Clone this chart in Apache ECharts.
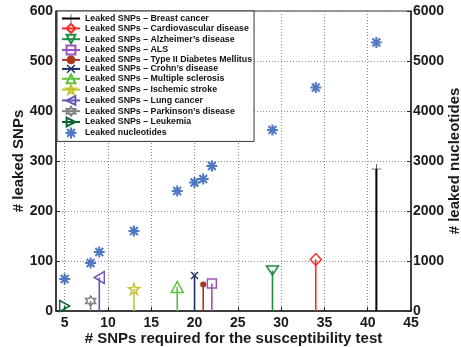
<!DOCTYPE html>
<html>
<head>
<meta charset="utf-8">
<script src="https://cdn.jsdelivr.net/npm/echarts@6/dist/echarts.min.js"></script>
<style>
html,body{margin:0;padding:0;background:#fff;}
#chart{width:461px;height:347px;}
</style>
</head>
<body>
<div id="chart"></div>
<script>
// ---- data ----
const diseases = ['Breast cancer','Cardiovascular disease',"Alzheimer’s disease",'ALS','Type II Diabetes Mellitus',"Crohn’s disease",'Multiple sclerosis','Ischemic stroke','Lung cancer',"Parkinson’s disease",'Leukemia'];
const snpsRequired = [41, 34, 29, 22, 21, 20, 18, 13, 9, 8, 5];
const leakedSNPs = [284, 103, 81, 55, 53, 71, 48, 44, 67, 20, 10];
const nucleotideX = [41, 34, 29, 22, 21, 20, 18, 13, 9, 8, 5];
const leakedNucleotides = [5370, 4470, 3620, 2900, 2640, 2570, 2400, 1600, 1180, 960, 640];
const xTicks = [5, 10, 15, 20, 25, 30, 35, 40, 45];

// ---- marker paths ----
function polyPath(pts){ return 'M' + pts.map(p => p[0].toFixed(2)+','+p[1].toFixed(2)).join(' L') + ' Z'; }
function spokes(angles, halfLen, halfW){
  return 'path://' + angles.map(a => {
    const r = a*Math.PI/180, c = Math.cos(r), s = Math.sin(r);
    const pts = [[-halfLen,-halfW],[halfLen,-halfW],[halfLen,halfW],[-halfLen,halfW]]
      .map(p => [10 + p[0]*c - p[1]*s, 10 + p[0]*s + p[1]*c]);
    return polyPath(pts);
  }).join(' ');
}
function starPath(n, rOut, rIn){
  const pts = [];
  for (let i = 0; i < 2*n; i++){
    const r = i % 2 === 0 ? rOut : rIn;
    const a = -Math.PI/2 + i*Math.PI/n;
    pts.push([10 + r*Math.cos(a), 10 + r*Math.sin(a)]);
  }
  return 'path://' + polyPath(pts);
}
const SYM = {
  plus: 'path://M0,9.4 L20,9.4 L20,10.6 L0,10.6 Z M9.4,0 L10.6,0 L10.6,20 L9.4,20 Z',
  diamond: 'path://M10,0 L20,10 L10,20 L0,10 Z',
  triDown: 'path://M0,0 L20,0 L10,20 Z',
  square: 'path://M0,0 L20,0 L20,20 L0,20 Z',
  circle: 'circle',
  cross: spokes([45,135], 10, 1.4),
  triUp: 'path://M10,0 L20,20 L0,20 Z',
  pent: starPath(5, 10, 4),
  triLeft: 'path://M20,0 L20,20 L0,10 Z',
  hex: starPath(6, 10, 5.8),
  triRight: 'path://M0,0 L0,20 L20,10 Z',
  aster: spokes([0,45,90,135], 10, 1.9)
};

const colors = ['#000000','#ff2a2a','#1f8c40','#a050b8','#a83a1c','#1e2d6e','#5cc03c','#c4c432','#6a55b8','#808080','#0e6434'];
const symbols = [SYM.plus, SYM.diamond, SYM.triDown, SYM.square, SYM.circle, SYM.cross, SYM.triUp, SYM.pent, SYM.triLeft, SYM.hex, SYM.triRight];
const sizes = [[10,10],[11,12],[12,9],[9,9],[6,6],[8,8],[12,11],[11,11],[10,12],[10,10],[10,11]];
const filled = [true,false,false,false,true,true,false,false,false,false,false];

const series = diseases.map((d, i) => ({
  name: 'Leaked SNPs – ' + d,
  type: 'line',
  xAxisIndex: 0,
  yAxisIndex: 0,
  symbol: symbols[i],
  symbolSize: sizes[i],
  showSymbol: true,
  lineStyle: { color: colors[i], width: i === 0 ? 2 : 1.6 },
  itemStyle: filled[i]
    ? { color: colors[i], borderWidth: 0 }
    : { color: 'rgba(255,255,255,0)', borderColor: colors[i], borderWidth: 1.5 },
  emphasis: { disabled: true },
  animation: false,
  z: 3,
  data: [
    { value: [snpsRequired[i], 0], symbol: 'none' },
    { value: [snpsRequired[i], leakedSNPs[i]] }
  ]
}));
series.push({
  name: 'Leaked nucleotides',
  type: 'scatter',
  xAxisIndex: 0,
  yAxisIndex: 1,
  symbol: SYM.aster,
  symbolSize: 11,
  symbolKeepAspect: true,
  itemStyle: { color: '#2458b4' },
  emphasis: { disabled: true },
  animation: false,
  z: 3,
  data: nucleotideX.map((x, i) => [x, leakedNucleotides[i]])
});

const gridLine = { show: true, lineStyle: { color: '#8c8c8c', type: [1, 2], width: 1 } };
const axisFont = { fontFamily: 'Liberation Sans, Arial, sans-serif', fontWeight: 'bold', fontSize: 14, color: '#1a1a1a' };
const titleFont = { ...axisFont, fontSize: 15 };
const plain = v => String(v);

const option = {
  backgroundColor: '#fff',
  animation: false,
  grid: { left: 56, right: 50, top: 11, bottom: 36, show: true, borderColor: '#333', borderWidth: 1, backgroundColor: 'transparent', containLabel: false, outerBoundsMode: 'none' },
  legend: {
    orient: 'vertical',
    left: 57, top: 11,
    padding: [3, 2, 3, 4],
    itemWidth: 18, itemHeight: 11, itemGap: 0,
    backgroundColor: '#fff',
    borderColor: '#333', borderWidth: 1,
    borderRadius: 0,
    textStyle: { fontFamily: 'Liberation Sans, Arial, sans-serif', fontWeight: 'bold', fontSize: 8.8, color: '#111' },
    data: series.map(s => s.name),
    selectedMode: false,
    z: 10
  },
  xAxis: [{
    type: 'value', min: 4, max: 45,
    name: '# SNPs required for the susceptibility test',
    nameLocation: 'middle', nameGap: 20, nameMoveOverlap: false,
    nameTextStyle: titleFont,
    axisLine: { show: true, onZero: false, lineStyle: { color: '#222', width: 1.5 } },
    axisTick: { show: true, inside: true, length: 4, customValues: xTicks, lineStyle: { color: '#222' } },
    axisLabel: { customValues: xTicks, margin: 5, formatter: plain, ...axisFont },
    splitLine: gridLine
  }],
  yAxis: [{
    type: 'value', min: 0, max: 600, interval: 100, position: 'left',
    name: '# leaked SNPs', nameLocation: 'middle', nameGap: 30, nameRotate: 90, nameMoveOverlap: false,
    nameTextStyle: titleFont,
    axisLine: { show: true, lineStyle: { color: '#222', width: 1.5 } },
    axisTick: { show: true, inside: true, length: 4, lineStyle: { color: '#222' } },
    axisLabel: { margin: 3, formatter: plain, ...axisFont },
    splitLine: gridLine
  }, {
    type: 'value', min: 0, max: 6000, interval: 1000, position: 'right',
    name: '# leaked nucleotides', nameLocation: 'middle', nameGap: 36, nameRotate: 90, nameMoveOverlap: false,
    nameTextStyle: titleFont,
    axisLine: { show: true, lineStyle: { color: '#222', width: 1.5 } },
    axisTick: { show: true, inside: true, length: 4, lineStyle: { color: '#222' } },
    axisLabel: { margin: 2, formatter: plain, ...axisFont },
    splitLine: { show: false }
  }],
  series: series
};

const chart = echarts.init(document.getElementById('chart'), null, { renderer: 'canvas' });
chart.setOption(option);
</script>
</body>
</html>
